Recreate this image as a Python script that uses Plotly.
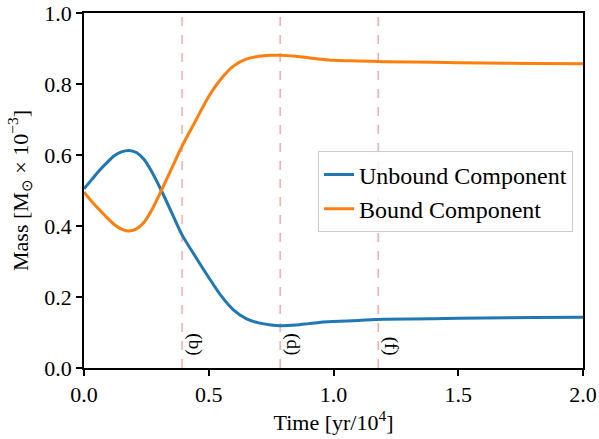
import plotly.graph_objects as go

time = [0.0, 0.03, 0.06, 0.09, 0.12, 0.15, 0.18, 0.21, 0.24, 0.27, 0.31, 0.35, 0.393,
        0.45, 0.5, 0.55, 0.6, 0.65, 0.7, 0.75, 0.786, 0.85, 0.9, 0.95, 1.0, 1.1, 1.2,
        1.4, 1.6, 1.8, 2.0]
unbound = [0.505, 0.53, 0.555, 0.577, 0.597, 0.609, 0.613, 0.607, 0.588, 0.555, 0.50, 0.44, 0.375,
           0.31, 0.255, 0.203, 0.163, 0.139, 0.127, 0.121, 0.119, 0.121, 0.125, 0.129, 0.131, 0.134, 0.137,
           0.139, 0.141, 0.142, 0.143]
bound = [0.495, 0.47, 0.447, 0.425, 0.405, 0.391, 0.386, 0.392, 0.41, 0.443, 0.50, 0.56, 0.625,
         0.70, 0.765, 0.815, 0.851, 0.870, 0.878, 0.881, 0.881, 0.878, 0.874, 0.870, 0.867, 0.865, 0.863,
         0.861, 0.859, 0.858, 0.857]
event_times = [0.393, 0.786, 1.179]
event_labels = ["(b)", "(d)", "(f)"]

FONT = "Liberation Serif"

fig = go.Figure()
fig.add_trace(go.Scatter(x=time, y=unbound, mode="lines", name="Unbound Component",
                         line=dict(color="#1f77b4", width=3, shape="spline", smoothing=0.8)))
fig.add_trace(go.Scatter(x=time, y=bound, mode="lines", name="Bound Component",
                         line=dict(color="#ff7f0e", width=3, shape="spline", smoothing=0.8)))

for t, lab in zip(event_times, event_labels):
    fig.add_shape(type="line", x0=t, x1=t, y0=0, y1=1, xref="x", yref="y",
                  line=dict(color="rgba(255,0,0,0.5)", width=1, dash="dash"), layer="below")
    fig.add_annotation(x=t, y=0.03, xref="x", yref="y", text=lab, showarrow=False,
                       textangle=90, xanchor="left", yanchor="bottom",
                       font=dict(family=FONT, size=19, color="black"))

axis_common = dict(showline=True, linecolor="black", linewidth=1.5, mirror=True,
                   ticks="outside", ticklen=6, tickwidth=1.5, tickcolor="black",
                   showgrid=False, zeroline=False, automargin=False,
                   tickfont=dict(family=FONT, size=22, color="black"))

fig.update_layout(
    width=599, height=439,
    margin=dict(l=84, r=16, t=13, b=71),
    plot_bgcolor="white", paper_bgcolor="white",
    xaxis=dict(range=[0, 2.0], tickvals=[0, 0.5, 1.0, 1.5, 2.0], ticktext=["0.0", "0.5", "1.0", "1.5", "2.0"],
               title=dict(text="Time [yr/10<sup>4</sup>]", font=dict(family=FONT, size=22, color="black"), standoff=8),
               **axis_common),
    yaxis=dict(range=[0, 1.0], tickvals=[0, 0.2, 0.4, 0.6, 0.8, 1.0],
               ticktext=["0.0", "0.2", "0.4", "0.6", "0.8", "1.0"],
               title=dict(text="Mass [M<sub>⊙</sub> × 10<sup>−3</sup>]", font=dict(family=FONT, size=22, color="black"), standoff=10),
               **axis_common),
    legend=dict(x=0.98, y=0.496, xanchor="right", yanchor="middle",
                bgcolor="rgba(255,255,255,0.8)", bordercolor="#cccccc", borderwidth=1,
                font=dict(family=FONT, size=24, color="black"), tracegroupgap=0),
    showlegend=True,
)

fig.write_html("out.html", config={"displayModeBar": False},
               post_script="document.body.style.margin='0';document.body.style.overflow='hidden';")
